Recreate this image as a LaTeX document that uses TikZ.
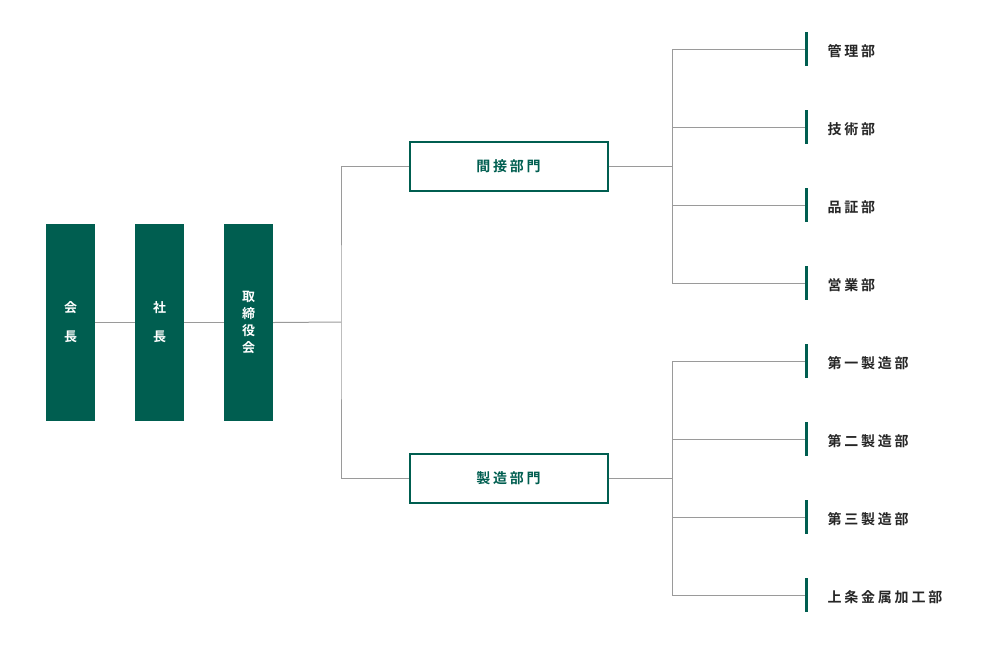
\documentclass[tikz,border=0pt]{standalone}
\usepackage{fontspec}
\setmainfont{Noto Sans CJK JP}[BoldFont={Noto Sans CJK JP Bold}]
\newfontfamily\spacedjp{Noto Sans CJK JP Bold}[LetterSpace=20]
\usetikzlibrary{positioning,calc}
\definecolor{deepgreen}{HTML}{005E50}
\definecolor{linegray}{HTML}{9A9A9A}
\tikzset{
  topbox/.style={fill=deepgreen,text=white,minimum width=49pt,minimum height=197pt,inner sep=0pt,font=\bfseries\fontsize{13pt}{17pt}\selectfont,align=center},
  divbox/.style={draw=deepgreen,line width=2pt,text=deepgreen,minimum width=198pt,minimum height=49pt,font=\spacedjp\fontsize{14pt}{16pt}\selectfont},
  deptbar/.style={draw=deepgreen,line width=3pt},
  deptlabel/.style={anchor=west,font=\spacedjp\fontsize{14pt}{16pt}\selectfont,text=black!85},
  wire/.style={draw=linegray,line width=1pt}
}
\begin{document}
\begin{tikzpicture}[x=1pt,y=-1pt]
    \useasboundingbox (0,0) rectangle (1000,649);
    % top management
    \node[topbox] (kaicho) at (70.5,322.5) {会\\[12pt]長};
    \node[topbox] (shacho) at (159.5,322.5) {社\\[12pt]長};
    \node[topbox] (torishimari) at (248.5,322.5) {取\\締\\役\\会};
    \draw[wire] (kaicho) -- (shacho);
    \draw[wire] (shacho) -- (torishimari);
    % divisions
    \node[divbox] (kansetsu) at (508.5,166) {間接部門};
    \node[divbox] (seizo) at (508.5,478) {製造部門};
    \coordinate (split) at (341,322);
    \draw[wire] (torishimari.east) -- (split);
    \draw[wire] (kansetsu.west) -| (split) |- (seizo.west);
    % departments
    \coordinate (kbranch) at (672,166);
    \coordinate (sbranch) at (672,478);
    \draw[wire] (kansetsu.east) -- (kbranch);
    \draw[wire] (seizo.east) -- (sbranch);
    \foreach \y/\name/\txt in {49/kanri/管理部,127/gijutsu/技術部,205/hinsho/品証部,283/eigyo/営業部} {
        \coordinate (\name) at (806,\y);
        \draw[wire] (672,\y) -- (\name);
        \draw[deptbar] ($(\name)+(0,-17)$) -- ($(\name)+(0,17)$);
        \node[deptlabel] at ($(\name)+(18,2)$) {\txt};}
    \foreach \y/\name/\txt in {361/dai1/第一製造部,439/dai2/第二製造部,517/dai3/第三製造部,595/kako/上条金属加工部} {
        \coordinate (\name) at (806,\y);
        \draw[wire] (672,\y) -- (\name);
        \draw[deptbar] ($(\name)+(0,-17)$) -- ($(\name)+(0,17)$);
        \node[deptlabel] at ($(\name)+(18,2)$) {\txt};}
    \draw[wire] (672,49) -- (672,283);
    \draw[wire] (672,361) -- (672,595);
\end{tikzpicture}
\end{document}
